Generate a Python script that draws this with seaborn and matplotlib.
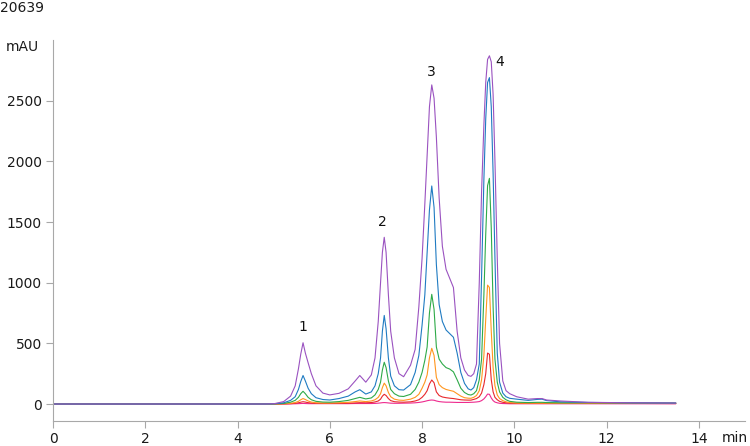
import numpy as np
import pandas as pd
import matplotlib
matplotlib.use('Agg')
import matplotlib.pyplot as plt
import seaborn as sns

# ── Data ────────────────────────────────────────────────────────────────────
time_min = [0.0, 4.6, 4.8, 5.0, 5.15, 5.25, 5.32, 5.37, 5.42, 5.47, 5.53, 5.6, 5.7, 5.85, 6.0,
            6.2, 6.4, 6.55, 6.65, 6.78,
            6.9, 6.98, 7.05, 7.1, 7.14, 7.18, 7.22, 7.27, 7.32, 7.4, 7.5, 7.6,
            7.75, 7.85, 7.93, 8.0, 8.06, 8.11, 8.16, 8.21, 8.26, 8.31, 8.37, 8.44, 8.52, 8.6,
            8.68, 8.76, 8.84, 8.92, 9.0, 9.06,
            9.12, 9.18, 9.24, 9.29, 9.34, 9.38, 9.42, 9.46, 9.5, 9.54, 9.58, 9.63, 9.68, 9.75,
            9.82, 9.9,
            10.05, 10.3, 10.5, 10.6, 10.7, 11.0, 11.6, 12.5, 13.5]

purple = [0, 0, 3, 20, 65, 150, 290, 410, 505, 420, 340, 250, 150, 90, 75,
          88, 125, 190, 235, 180,
          240, 380, 680, 1000, 1250, 1374, 1250, 900, 600, 380, 250, 225,
          320, 450, 800, 1200, 1650, 2050, 2450, 2630, 2520, 2200, 1700, 1300, 1110, 1035,
          960, 600, 380, 280, 235, 228,
          250, 330, 1000, 1750, 2300, 2650, 2840, 2870, 2820, 2550, 2000, 1200, 500, 190,
          110, 85,
          60, 40, 45, 45, 33, 25, 14, 10, 8]

blue = [0, 0, 2, 10, 30, 60, 120, 185, 235, 190, 130, 85, 52, 37, 33,
        45, 65, 100, 118, 82,
        100, 150, 250, 380, 600, 730, 620, 380, 230, 150, 118, 115,
        160, 260, 400, 650, 900, 1250, 1600, 1797, 1620, 1150, 820, 680, 610, 580,
        550, 420, 260, 170, 125, 115,
        135, 200, 330, 1050, 1850, 2350, 2650, 2690, 2450, 1900, 1200, 420, 180, 90,
        60, 47,
        40, 30, 38, 40, 28, 18, 13, 10, 8]

green = [0, 0, 1, 5, 15, 30, 55, 85, 105, 85, 55, 35, 22, 16, 15,
         20, 30, 45, 55, 42,
         50, 75, 120, 180, 280, 344, 300, 190, 120, 85, 65, 62,
         80, 120, 180, 260, 360, 470, 750, 904, 780, 470, 370, 330, 300, 288,
         265, 200, 130, 95, 78, 74,
         85, 110, 200, 370, 900, 1400, 1800, 1860, 1450, 800, 370, 180, 100, 55,
         35, 22,
         15, 12, 14, 14, 12, 10, 10, 9, 8]

orange = [0, 0, 0, 2, 6, 12, 22, 35, 45, 37, 25, 16, 10, 8, 8,
          10, 14, 20, 25, 20,
          25, 35, 55, 85, 135, 172, 150, 95, 60, 40, 32, 30,
          40, 55, 80, 130, 180, 240, 380, 459, 400, 220, 160, 135, 120, 112,
          105, 85, 65, 52, 48, 47,
          55, 70, 110, 200, 400, 700, 980, 960, 600, 300, 150, 75, 45, 28,
          18, 12,
          8, 7, 7, 7, 7, 6, 6, 6, 6]

red = [0, 0, 0, 1, 3, 6, 10, 15, 19, 16, 11, 8, 6, 5, 5,
       6, 7, 9, 11, 10,
       12, 17, 25, 40, 65, 80, 70, 45, 28, 19, 16, 15,
       18, 25, 35, 55, 80, 110, 165, 198, 175, 100, 70, 58, 52, 48,
       45, 40, 35, 33, 32, 32,
       38, 45, 60, 90, 160, 250, 420, 410, 200, 100, 55, 35, 22, 14,
       10, 7,
       5, 5, 5, 5, 5, 5, 5, 5, 4]

pink = [0, 0, 0, 0, 1, 2, 3, 4, 5, 4, 3, 3, 3, 3, 3,
        3, 3, 4, 4, 4,
        4, 5, 7, 9, 11, 12, 11, 9, 7, 6, 6, 7,
        8, 10, 13, 17, 22, 27, 31, 33, 31, 25, 20, 17, 15, 15,
        14, 13, 13, 13, 13, 14,
        15, 17, 20, 28, 42, 60, 82, 80, 50, 28, 16, 10, 6, 4,
        3, 2,
        2, 2, 2, 2, 2, 2, 2, 2, 2]

peak_labels = ['1', '2', '3', '4']
peak_times = [5.42, 7.13, 8.21, 9.69]
peak_heights = [635, 1500, 2737, 2820]

trace_names = ['pink', 'red', 'orange', 'green', 'blue', 'purple']
trace_values = [pink, red, orange, green, blue, purple]
colors = {'pink': '#ee2a8e', 'red': '#e8282c', 'orange': '#ff961e',
          'green': '#2eaa48', 'blue': '#1f7bc2', 'purple': '#9a52c0'}

df = pd.concat([pd.DataFrame({'time': time_min, 'mAU': v, 'trace': n})
                for n, v in zip(trace_names, trace_values)], ignore_index=True)

# ── Plot ─────────────────────────────────────────────────────────────────────
sns.set_style('white')
plt.rcParams['font.family'] = ['DejaVu Sans']

fig = plt.figure(figsize=(7.5, 4.46), dpi=100)
ax = fig.add_axes([53 / 750, 25 / 446, 692 / 750, 381 / 446])

sns.lineplot(data=df, x='time', y='mAU', hue='trace', hue_order=trace_names,
             palette=colors, estimator=None, linewidth=0.8, legend=False, ax=ax)

for lab, t, h in zip(peak_labels, peak_times, peak_heights):
    ax.text(t, h, lab, ha='center', va='center', fontsize=10, color='#111111')

ax.set_xlim(0, 15)
ax.set_ylim(-140, 3000)
ax.set_xticks(np.arange(0, 15, 2))
ax.set_yticks(np.arange(0, 3000, 500))
ax.set_xlabel(''); ax.set_ylabel('')

for side in ['top', 'right']:
    ax.spines[side].set_visible(False)
for side in ['left', 'bottom']:
    ax.spines[side].set_color('#a8a8a8')
    ax.spines[side].set_linewidth(0.8)
ax.tick_params(bottom=True, left=True, direction='out', length=5, width=0.8,
               color='#a8a8a8', labelsize=10, labelcolor='#1a1a1a', pad=3)

fig.text(0 / 750, 1 - 8 / 446, '20639', ha='left', va='center', fontsize=10, color='#1a1a1a')
fig.text(39 / 750, 1 - 47 / 446, 'mAU', ha='right', va='center', fontsize=10, color='#1a1a1a')
fig.text(748 / 750, 1 - 438 / 446, 'min', ha='right', va='center', fontsize=10, color='#1a1a1a')

fig.savefig('out.png', dpi=100)
